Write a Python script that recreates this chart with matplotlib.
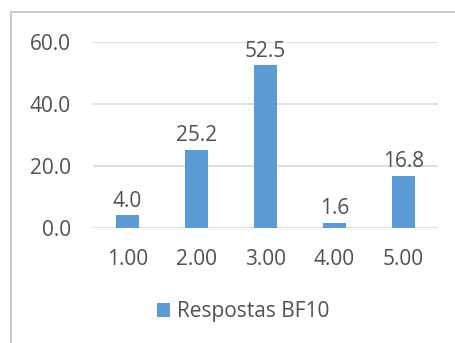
import matplotlib.pyplot as plt
from matplotlib.patches import Rectangle

# Survey response shares
categories = ['1.00', '2.00', '3.00', '4.00', '5.00']
values = [4.0, 25.2, 52.5, 1.6, 16.8]
series_name = 'Respostas BF10'

bar_color = '#5B9BD5'
text_color = '#505050'
grid_color = '#D9D9D9'

plt.rcParams['font.family'] = ['Open Sans', 'DejaVu Sans']
fs = 15

fig = plt.figure(figsize=(4.55, 3.43), dpi=100)
ax = fig.add_axes([93 / 455, 1 - 227.7 / 343, 345 / 455, 186 / 343])

x = range(len(categories))
bars = ax.bar(x, values, width=0.32, color=bar_color, label=series_name, zorder=3)

for xi, v in zip(x, values):
    ax.annotate(f'{v:.1f}', (xi, v), xytext=(0, 6), textcoords='offset points',
                ha='center', va='baseline', fontsize=fs, color=text_color)

ax.set_xlim(-0.5, len(categories) - 0.5)
ax.set_ylim(0, 60)
ax.set_yticks([0, 20, 40, 60])
ax.set_yticklabels([f'{t:.1f}' for t in [0, 20, 40, 60]])
ax.set_xticks(list(x))
ax.set_xticklabels(categories)
ax.tick_params(axis='both', length=0, labelsize=fs, labelcolor=text_color)
ax.tick_params(axis='x', pad=15)
ax.tick_params(axis='y', pad=16)
ax.grid(axis='y', color=grid_color, linewidth=1.2, zorder=0)
ax.set_axisbelow(True)
for s in ax.spines.values():
    s.set_visible(False)

fig.legend(handles=[bars], labels=[series_name], loc='center',
           bbox_to_anchor=(243 / 455, 1 - 312 / 343), frameon=False,
           fontsize=fs, labelcolor=text_color, handlelength=0.65, handleheight=0.65,
           handletextpad=0.3)

# chart border
fig.patches.append(Rectangle((11 / 455, -0.1), 1.2, 1.1 - 12 / 343,
                             transform=fig.transFigure, fill=False,
                             edgecolor='#BFBFBF', linewidth=1.2))

fig.savefig('out.png', dpi=100)
